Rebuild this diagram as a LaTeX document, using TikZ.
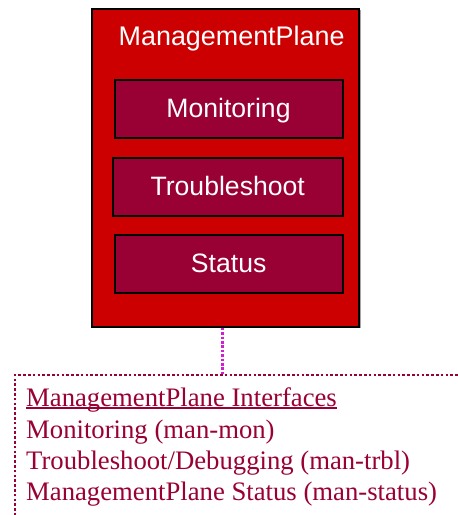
\documentclass[tikz,border=0pt]{standalone}
\usepackage{fontspec}
\setmainfont{Liberation Serif}
\setsansfont{Liberation Sans}
\definecolor{planered}{HTML}{CC0000}
\definecolor{blockred}{HTML}{990033}
\definecolor{linkpink}{HTML}{D21ED2}
\newcommand\lowul[1]{\setbox0\hbox{#1}\rlap{\rule[-2.0pt]{\wd0}{1.3pt}}\box0}
\begin{document}
\begin{tikzpicture}[x=1pt,y=-1pt,
  planebox/.style={draw=black, line width=2.2pt, fill=planered, inner sep=0pt},
  subbox/.style={draw=black, line width=2pt, fill=blockred, inner sep=0pt,
    minimum width=228pt, minimum height=58pt, text=white,
    font=\sffamily\fontsize{26.6}{30}\selectfont, text height=17.4pt, text depth=0pt},
  title/.style={text=white, font=\sffamily\fontsize{26.9}{30}\selectfont, inner sep=0pt},
  ifacetext/.style={text=blockred, inner sep=0pt, anchor=base west,
    font=\rmfamily\fontsize{26.7}{31}\selectfont},
  ifaceframe/.style={draw=blockred, line width=2.4pt, dash pattern=on 2.6pt off 2.2pt},
  link/.style={draw=linkpink, line width=2.4pt, dash pattern=on 2.6pt off 1.8pt}]
\useasboundingbox (0,0) rectangle (458,515);
% drop shadow and the plane container
\fill[gray!70] (93.5,10) rectangle (360.5,328.3);
\node[planebox, minimum width=267pt, minimum height=318pt] (plane) at (225.6,167.6) {};
\node[title, anchor=base west] (ptitle) at (118.5,45) {ManagementPlane};
% functional blocks
\node[subbox] (mon) at (228.5,108.5) {Monitoring};
\node[subbox, minimum width=230pt] (trbl) at (227.7,187.2) {Troubleshoot};
\node[subbox] (stat) at (228.7,264.2) {Status};
% interface list, open at the right and bottom
\begin{scope}
\clip (0,0) rectangle (458,515);
\draw[ifaceframe] (15,530) -- (15,375) -- (470,375);
\end{scope}
\coordinate (tap) at (222.5,375);
\node[ifacetext] (ihead) at (26,406.5) {\lowul{ManagementPlane Interfaces}};
\node[ifacetext] (imon) at (26,438) {Monitoring (man-mon)};
\node[ifacetext] (itrbl) at (26,469.5) {Troubleshoot/Debugging (man-trbl)};
\node[ifacetext] (istat) at (26,500) {ManagementPlane Status (man-status)};
\draw[link] (plane.south -| tap) -- (tap);
\end{tikzpicture}
\end{document}
